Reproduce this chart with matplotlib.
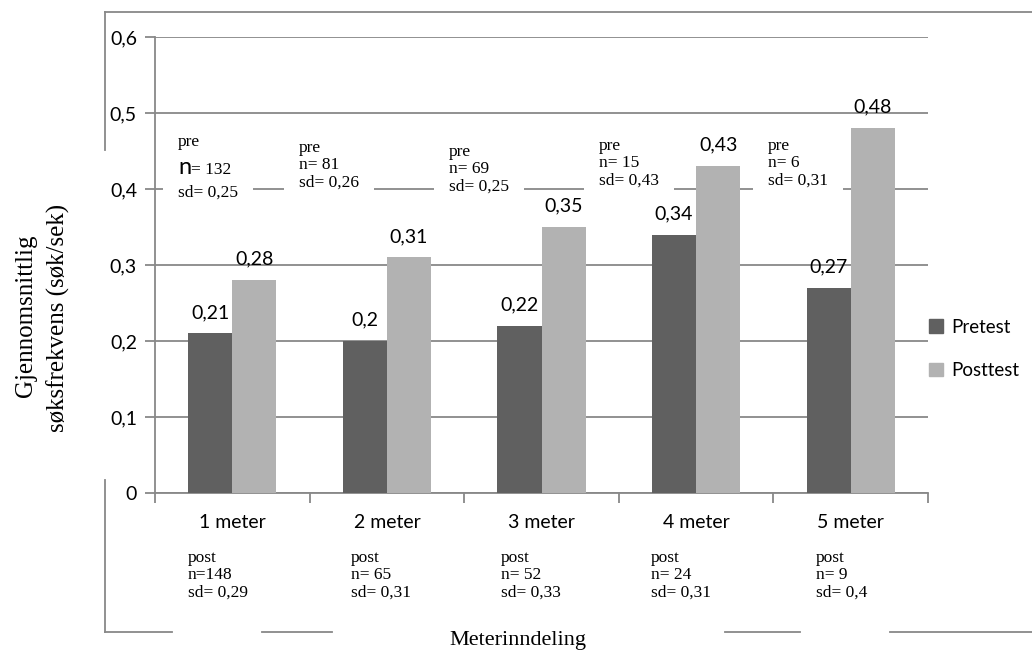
import matplotlib.pyplot as plt
import numpy as np
from matplotlib.lines import Line2D
from matplotlib.patches import Patch

categories = ["1 meter", "2 meter", "3 meter", "4 meter", "5 meter"]
pretest = [0.21, 0.2, 0.22, 0.34, 0.27]
posttest = [0.28, 0.31, 0.35, 0.43, 0.48]
pre_n = ["132", "81", "69", "15", "6"]
pre_sd = ["0,25", "0,26", "0,25", "0,43", "0,31"]
post_n = ["148", " 65", " 52", " 24", " 9"]
post_sd = ["0,29", "0,31", "0,33", "0,31", "0,4"]
yticks = [0, 0.1, 0.2, 0.3, 0.4, 0.5, 0.6]

DARK = "#606060"
LIGHT = "#b2b2b2"
LINE = "#888888"
SANS = "Lato"
SERIF = "Liberation Serif"
FS = 14
FS_SERIF = 12.5


def komma(v):
    return f"{v:g}".replace(".", ",")


fig = plt.figure(figsize=(10.32, 6.53), dpi=100)
W, H = 1032, 653
ax = fig.add_axes([155 / W, 1 - 493 / H, (928 - 155) / W, (493 - 37) / H])

x = np.arange(len(categories))
bw = 1 / 3.5
ax.bar(x - bw / 2, pretest, bw, color=DARK, zorder=3)
ax.bar(x + bw / 2, posttest, bw, color=LIGHT, zorder=3)

for xi, v in zip(x - bw / 2, pretest):
    ax.annotate(komma(v), (xi, v), xytext=(0, 9), textcoords="offset points",
                ha="center", va="bottom", family=SANS, fontsize=FS, zorder=5)
for xi, v in zip(x + bw / 2, posttest):
    ax.annotate(komma(v), (xi, v), xytext=(0, 9), textcoords="offset points",
                ha="center", va="bottom", family=SANS, fontsize=FS, zorder=5)

ax.set_xlim(-0.5, len(categories) - 0.5)
ax.set_ylim(0, 0.6)
ax.set_yticks(yticks)
ax.set_yticklabels([komma(t) for t in yticks], family=SANS, fontsize=FS)
ax.set_xticks(x)
ax.set_xticklabels(categories, family=SANS, fontsize=FS)
ax.set_xticks(np.arange(len(categories) + 1) - 0.5, minor=True)
ax.tick_params(axis="x", which="major", length=0, pad=15)
ax.tick_params(axis="x", which="minor", length=7, color=LINE, width=1.3)
ax.tick_params(axis="y", length=7, color=LINE, width=1.3, pad=6)

ax.grid(axis="y", color=LINE, linewidth=1.3, zorder=0)
ax.set_axisbelow(True)
for side in ["top", "right"]:
    ax.spines[side].set_visible(False)
for side in ["left", "bottom"]:
    ax.spines[side].set_color(LINE)
    ax.spines[side].set_linewidth(1.3)

# pre-test counts above the bars, on white boxes that cut the 0,4 gridline
pre_x = [178, 299, 449, 599, 768]
pre_top = [133, 140, 144, 138, 138]
box = dict(fc="white", ec="none", pad=11)
for i in range(len(categories)):
    px, py = pre_x[i] / W, 1 - pre_top[i] / H
    if i == 0:
        fig.text(px, 1 - 146 / H, "pre", family=SERIF, fontsize=FS_SERIF,
                 va="baseline", zorder=5)
        fig.text(px, 1 - 174 / H, "n", family=SANS, fontsize=17,
                 va="baseline", zorder=5)
        fig.text(px + 13 / W, 1 - 174 / H, "= " + pre_n[i], family=SERIF,
                 fontsize=FS_SERIF, va="baseline", zorder=5)
        fig.text(px, 1 - 197 / H, "sd= " + pre_sd[i], family=SERIF,
                 fontsize=FS_SERIF, va="baseline", bbox=box, zorder=4)
    else:
        fig.text(px, py, f"pre\nn= {pre_n[i]}\nsd= {pre_sd[i]}", family=SERIF,
                 fontsize=FS_SERIF, va="top", linespacing=1.1, bbox=box, zorder=4)

# post-test counts under the category labels
post_x = [188, 351, 501, 651, 816]
for i in range(len(categories)):
    fig.text(post_x[i] / W, 1 - 550 / H, f"post\nn={post_n[i]}\nsd= {post_sd[i]}",
             family=SERIF, fontsize=FS_SERIF, va="top", linespacing=1.1)

fig.text(26 / W, 1 - 316 / H, "Gjennomsnittlig", family=SERIF, fontsize=18,
         rotation=90, ha="center", va="center")
fig.text(58 / W, 1 - 318 / H, "søksfrekvens (søk/sek)", family=SERIF, fontsize=18,
         rotation=90, ha="center", va="center")
fig.text(518 / W, 1 - 640 / H, "Meterinndeling", family=SERIF, fontsize=16,
         ha="center", va="center")

handles = [Patch(color=DARK, label="Pretest"), Patch(color=LIGHT, label="Posttest")]
fig.legend(handles=handles, loc="center left", bbox_to_anchor=(912 / W, 1 - 349 / H),
           frameon=False, handlelength=0.75, handleheight=0.75, handletextpad=0.45,
           labelspacing=1.4, prop={"family": SANS, "size": 13.5})

# outer chart frame, broken where the text boxes sit on it
frame = [
    ((105, 1032), (12, 12)),
    ((105, 105), (12, 150)),
    ((105, 105), (480, 632)),
    ((105, 172), (632, 632)),
    ((262, 332), (632, 632)),
    ((725, 800), (632, 632)),
    ((890, 1032), (632, 632)),
]
for (xs, ys) in frame:
    fig.add_artist(Line2D([v / W for v in xs], [1 - v / H for v in ys],
                          color=LINE, linewidth=1.3))

fig.savefig("out.png", dpi=100)
